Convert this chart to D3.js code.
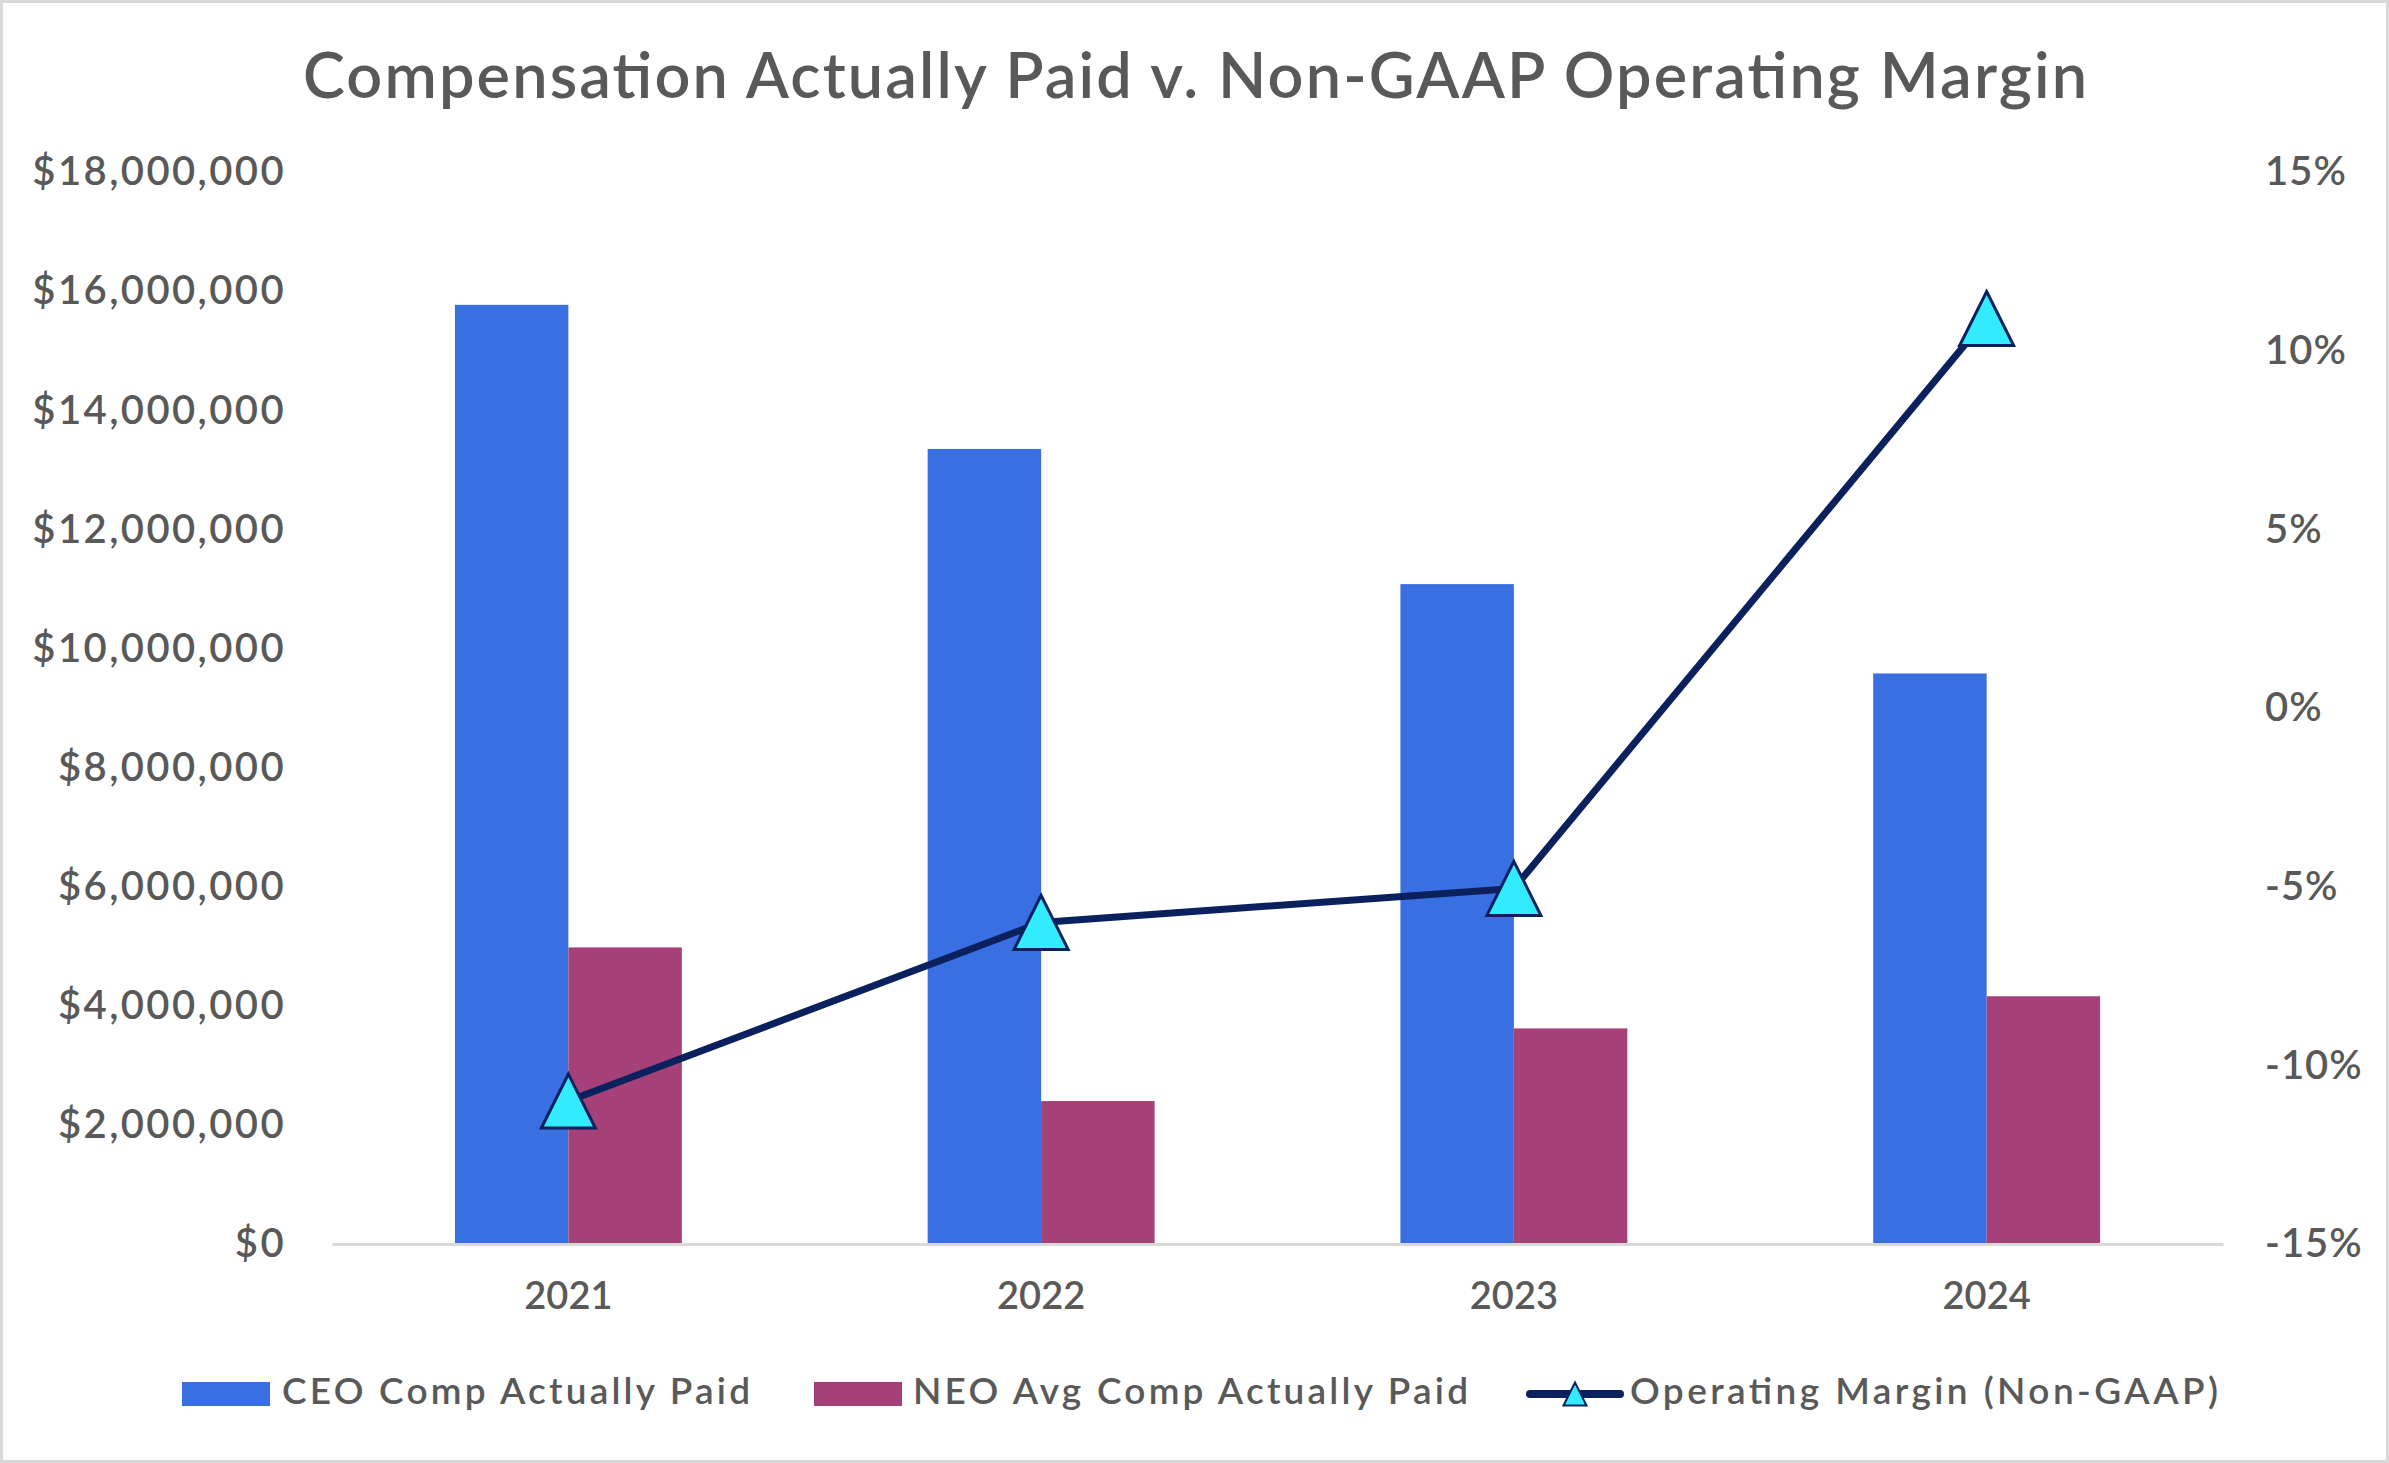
<!DOCTYPE html>
<html>
<head>
<meta charset="utf-8">
<script src="https://cdn.jsdelivr.net/npm/d3@7"></script>
<style>
  html, body { margin: 0; padding: 0; background: #fff; }
  svg { display: block; }
  text { font-family: Lato, "Open Sans", sans-serif; fill: #595959; }
</style>
</head>
<body>
<script>
// ---- data ----
const years = ["2021", "2022", "2023", "2024"];
const ceoComp = [15770000, 13350000, 11080000, 9580000];
const neoComp = [4980000, 2400000, 3620000, 4160000];
const opMargin = [-11.0, -6.0, -5.05, 10.9];
const leftTicks = [0, 2000000, 4000000, 6000000, 8000000, 10000000, 12000000, 14000000, 16000000, 18000000];
const rightTicks = [-15, -10, -5, 0, 5, 10, 15];
const seriesNames = ["CEO Comp Actually Paid", "NEO Avg Comp Actually Paid", "Operating Margin (Non-GAAP)"];
const titleText = "Compensation Actually Paid v. Non-GAAP Operating Margin";

// ---- layout ----
const W = 2389, H = 1463;
const plot = { left: 332, right: 2223, top: 172, bottom: 1244 };
const colors = { ceo: "#3A6FE2", neo: "#A54079", line: "#0A215E", marker: "#33EBFF", axis: "#D9D9D9" };

const svg = d3.select("body").append("svg").attr("width", W).attr("height", H);

// border
svg.append("rect").attr("x", 1.5).attr("y", 1.5).attr("width", W - 3).attr("height", H - 3)
  .attr("fill", "#fff").attr("stroke", "#D9D9D9").attr("stroke-width", 3);

// title
svg.append("text").attr("x", 303).attr("y", 98)
  .attr("font-size", 63).attr("font-weight", 600)
  .attr("textLength", 1784).attr("lengthAdjust", "spacing").text(titleText);

// scales
const x0 = d3.scaleBand().domain(years).range([plot.left, plot.right]).paddingInner(0.52).paddingOuter(0.26);
const x1 = d3.scaleBand().domain(["ceo", "neo"]).range([0, x0.bandwidth()]);
const yL = d3.scaleLinear().domain([0, 18000000]).range([plot.bottom, plot.top]);
const yR = d3.scaleLinear().domain([-15, 15]).range([plot.bottom, plot.top]);

// bars
const g = svg.append("g");
years.forEach((yr, i) => {
  const gx = x0(yr);
  g.append("rect").attr("x", gx + x1("ceo")).attr("y", yL(ceoComp[i]))
    .attr("width", x1.bandwidth()).attr("height", yL(0) - yL(ceoComp[i])).attr("fill", colors.ceo);
  g.append("rect").attr("x", gx + x1("neo")).attr("y", yL(neoComp[i]))
    .attr("width", x1.bandwidth()).attr("height", yL(0) - yL(neoComp[i])).attr("fill", colors.neo);
});

// baseline axis
const xAxis = d3.axisBottom(x0).tickSize(0).tickPadding(38);
const xg = svg.append("g").attr("transform", `translate(0,${plot.bottom})`).call(xAxis);
xg.select(".domain").attr("stroke", colors.axis).attr("stroke-width", 3);
xg.selectAll("text").attr("font-size", 38).attr("font-weight", 600).attr("fill", "#595959")
  .style("font-family", "Lato, sans-serif");

// left axis
const fmtL = d => "$" + d3.format(",")(d);
const yAxisL = d3.axisLeft(yL).tickValues(leftTicks).tickFormat(fmtL).tickSize(0).tickPadding(0);
const lg = svg.append("g").attr("transform", `translate(286,0)`).call(yAxisL);
lg.select(".domain").remove();
lg.selectAll("text").attr("font-size", 40).attr("font-weight", 600).attr("fill", "#595959")
  .attr("letter-spacing", 2.4).style("font-family", "Lato, sans-serif");

// right axis
const fmtR = d => d + "%";
const yAxisR = d3.axisRight(yR).tickValues(rightTicks).tickFormat(fmtR).tickSize(0).tickPadding(0);
const rg = svg.append("g").attr("transform", `translate(2265,0)`).call(yAxisR);
rg.select(".domain").remove();
rg.selectAll("text").attr("font-size", 40).attr("font-weight", 600).attr("fill", "#595959")
  .attr("letter-spacing", 1).style("font-family", "Lato, sans-serif");

// line
const cx = yr => x0(yr) + x0.bandwidth() / 2;
const line = d3.line().x((d, i) => cx(years[i])).y(d => yR(d));
svg.append("path").datum(opMargin).attr("d", line).attr("fill", "none")
  .attr("stroke", colors.line).attr("stroke-width", 7).attr("stroke-linejoin", "round");

const tri = (s) => {
  const h = s, w = s;
  return `M0,${-h / 2}L${w / 2},${h / 2}L${-w / 2},${h / 2}Z`;
};
svg.selectAll(".mk").data(opMargin).enter().append("path")
  .attr("transform", (d, i) => `translate(${cx(years[i])},${yR(d)})`)
  .attr("d", tri(54)).attr("fill", colors.marker).attr("stroke", colors.line).attr("stroke-width", 3)
  .attr("stroke-linejoin", "miter");

// legend
const leg = svg.append("g");
const legY = 1394;
const legText = (x, len, t) => leg.append("text").attr("x", x).attr("y", legY + 10)
  .attr("font-size", 37).attr("font-weight", 600)
  .attr("textLength", len).attr("lengthAdjust", "spacing").text(t);
leg.append("rect").attr("x", 182).attr("y", legY - 12).attr("width", 88).attr("height", 24).attr("fill", colors.ceo);
legText(282, 468, seriesNames[0]);
leg.append("rect").attr("x", 814).attr("y", legY - 12).attr("width", 88).attr("height", 24).attr("fill", colors.neo);
legText(913, 555, seriesNames[1]);
leg.append("line").attr("x1", 1530).attr("x2", 1620).attr("y1", legY).attr("y2", legY)
  .attr("stroke", colors.line).attr("stroke-width", 8).attr("stroke-linecap", "round");
leg.append("path").attr("transform", `translate(1575,${legY})`).attr("d", tri(23))
  .attr("fill", colors.marker).attr("stroke", colors.line).attr("stroke-width", 2);
legText(1630, 588, seriesNames[2]);
</script>
</body>
</html>
